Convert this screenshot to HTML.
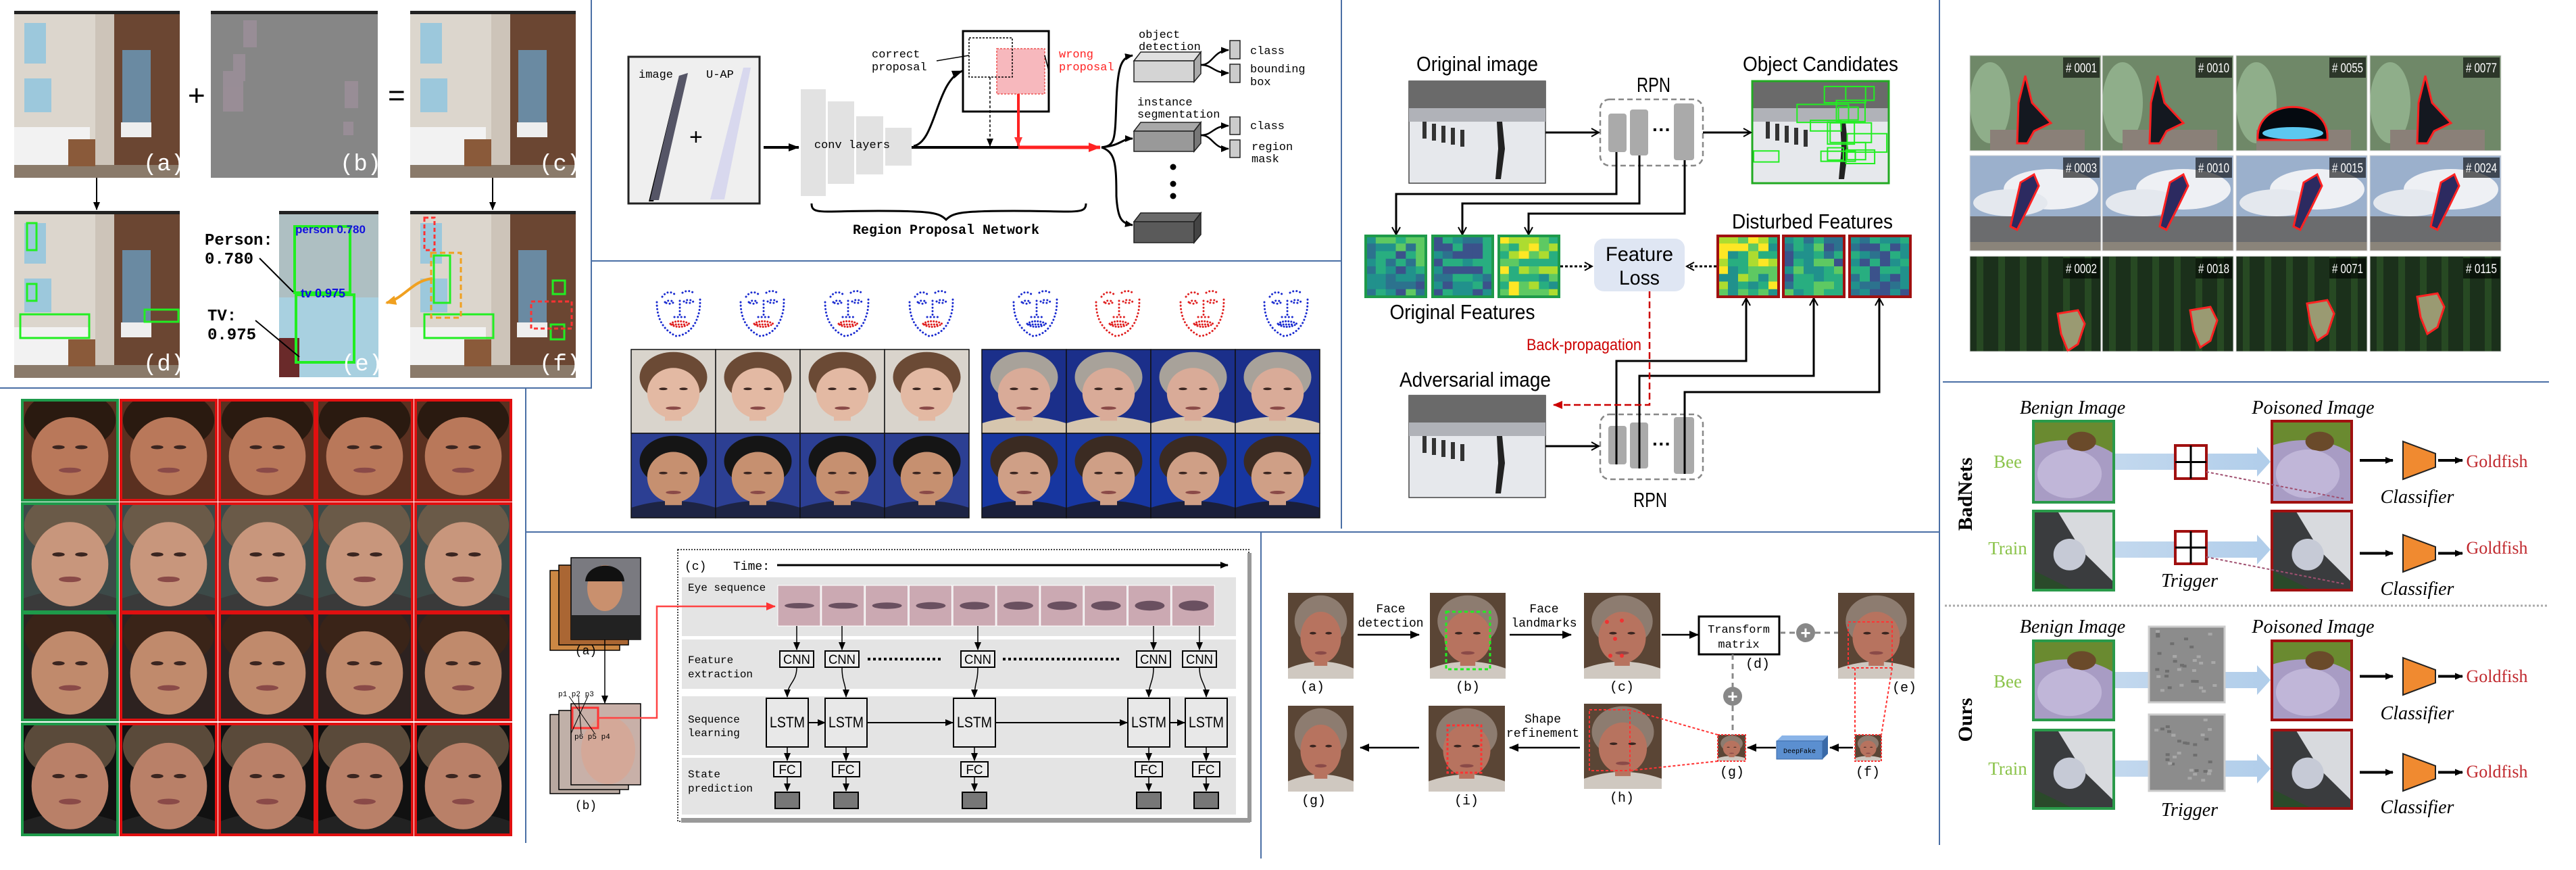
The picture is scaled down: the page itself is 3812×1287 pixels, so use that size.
<!DOCTYPE html>
<html><head><meta charset="utf-8"><style>body{margin:0;background:#fff}svg{display:block}
.m{font-family:"Liberation Mono",monospace}
.s{font-family:"Liberation Sans",sans-serif}
.r{font-family:"Liberation Serif",serif}
</style></head><body>
<svg id="S" width="3812" height="1287" xmlns="http://www.w3.org/2000/svg">
<defs id="D">
<marker id="ah" markerWidth="16" markerHeight="12" refX="15" refY="6" orient="auto" markerUnits="userSpaceOnUse"><path d="M0,0 L16,6 L0,12 z" fill="#000"/></marker>
<marker id="ahs" markerWidth="12" markerHeight="10" refX="11" refY="5" orient="auto" markerUnits="userSpaceOnUse"><path d="M0,0 L12,5 L0,10 z" fill="#000"/></marker>
<marker id="ahr" markerWidth="18" markerHeight="14" refX="17" refY="7" orient="auto" markerUnits="userSpaceOnUse"><path d="M0,0 L18,7 L0,14 z" fill="#f22"/></marker>
<marker id="ahr2" markerWidth="14" markerHeight="12" refX="13" refY="6" orient="auto" markerUnits="userSpaceOnUse"><path d="M0,0 L14,6 L0,12 z" fill="#f33"/></marker>
<marker id="ahd" markerWidth="14" markerHeight="12" refX="13" refY="6" orient="auto" markerUnits="userSpaceOnUse"><path d="M0,0 L14,6 L0,12 z" fill="#c00"/></marker>
<marker id="av" markerWidth="14" markerHeight="14" refX="12" refY="7" orient="auto" markerUnits="userSpaceOnUse"><path d="M1,1 L12,7 L1,13" fill="none" stroke="#000" stroke-width="2"/></marker>
<marker id="ao" markerWidth="16" markerHeight="14" refX="14" refY="7" orient="auto" markerUnits="userSpaceOnUse"><path d="M0,0 L16,7 L0,14 z" fill="#f0a020"/></marker>
<linearGradient id="barr" x1="0" x2="1"><stop offset="0" stop-color="#bcd4ec" stop-opacity=".9"/><stop offset="1" stop-color="#a8c8e8" stop-opacity=".9"/></linearGradient>
<symbol id="bath" viewBox="0 0 245 247">
<rect width="245" height="247" fill="#cdc4b9"/>
<rect x="0" y="0" width="120" height="247" fill="#dcd6cd"/>
<rect x="148" y="0" width="97" height="247" fill="#6b4632"/>
<rect x="160" y="58" width="42" height="125" fill="#6a8aa2"/>
<rect x="15" y="18" width="32" height="60" fill="#9cc8dc"/>
<rect x="15" y="100" width="40" height="50" fill="#9cc8dc"/>
<rect x="0" y="172" width="112" height="58" fill="#f2f2f2"/>
<rect x="158" y="165" width="45" height="22" fill="#eee"/>
<rect x="0" y="228" width="245" height="19" fill="#8a7a6a"/>
<rect x="80" y="190" width="40" height="40" fill="#8a5a3a"/>
<rect x="0" y="0" width="245" height="5" fill="#222"/>
</symbol>
</defs>

<g stroke="#4a6fa5" stroke-width="2" fill="none">
<path d="M875,0 V574 H0"/>
<path d="M778,574 V1247"/>
<path d="M1985,0 V782"/>
<path d="M875,386 H1985"/>
<path d="M778,787 H2870"/>
<path d="M1866,787 V1270"/>
<path d="M2870,0 V1250"/>
<path d="M2875,565 H3772"/>
</g>

<use href="#bath" x="21" y="16" width="245" height="247"/>
<rect x="312" y="16" width="247" height="247" fill="#868686"/>
<rect x="312" y="16" width="247" height="5" fill="#222"/>
<g fill="#9b8e98" opacity=".9">
<rect x="360" y="30" width="20" height="40"/><rect x="345" y="80" width="18" height="40"/><rect x="330" y="105" width="30" height="60"/><rect x="510" y="120" width="20" height="40"/><rect x="508" y="180" width="15" height="20"/></g>
<use href="#bath" x="607" y="16" width="245" height="247"/>
<use href="#bath" x="21" y="312" width="245" height="247"/>
<use href="#bath" x="607" y="312" width="245" height="247"/>
<g fill="none" stroke="#2e2" stroke-width="3">
<rect x="40" y="330" width="14" height="40"/><rect x="40" y="420" width="14" height="25"/><rect x="30" y="465" width="102" height="35"/><rect x="214" y="458" width="50" height="18"/>
<rect x="628" y="465" width="102" height="35"/><rect x="818" y="415" width="18" height="20"/><rect x="815" y="480" width="20" height="22"/>
<rect x="642" y="378" width="24" height="70"/>
</g>
<g fill="none" stroke="#f33" stroke-width="3" stroke-dasharray="6 4"><rect x="628" y="322" width="15" height="48"/><rect x="786" y="446" width="60" height="40"/></g>
<g fill="none" stroke="#f0a020" stroke-width="3" stroke-dasharray="8 5"><rect x="638" y="374" width="44" height="96"/></g>
<rect x="413" y="312" width="147" height="246" fill="#aebfc2"/>
<rect x="413" y="440" width="147" height="118" fill="#a8d0e0"/>
<rect x="413" y="312" width="147" height="5" fill="#222"/>
<rect x="413" y="500" width="30" height="58" fill="#6a2a2a"/>
<g fill="none" stroke="#2e2" stroke-width="4"><rect x="436" y="335" width="82" height="98"/><rect x="438" y="436" width="86" height="100"/></g>
<text x="437" y="345" class="s" font-size="17" font-weight="bold" fill="#11d">person 0.780</text>
<text x="445" y="440" class="s" font-size="18" font-weight="bold" fill="#11d">tv 0.975</text>
<g class="m" font-size="34" fill="#fff"><text x="212" y="252">(a)</text><text x="503" y="252">(b)</text><text x="798" y="252">(c)</text><text x="212" y="548">(d)</text><text x="505" y="548">(e)</text><text x="798" y="548">(f)</text></g>
<text x="278" y="156" class="s" font-size="44">+</text>
<text x="574" y="156" class="s" font-size="44">=</text>
<line x1="143" y1="263" x2="143" y2="310" stroke="#000" stroke-width="2" marker-end="url(#ahs)"/>
<line x1="729" y1="263" x2="729" y2="310" stroke="#000" stroke-width="2" marker-end="url(#ahs)"/>
<g class="m" font-size="24" font-weight="bold"><text x="303" y="362">Person:</text><text x="303" y="390">0.780</text><text x="307" y="474">TV:</text><text x="307" y="502">0.975</text></g>
<line x1="384" y1="382" x2="434" y2="432" stroke="#000" stroke-width="2"/>
<line x1="378" y1="474" x2="443" y2="528" stroke="#000" stroke-width="2"/>
<path d="M640,412 C610,415 600,440 572,448" fill="none" stroke="#f0a020" stroke-width="4" marker-end="url(#ao)"/>

<rect x="930" y="84" width="194" height="217" fill="#efefef" stroke="#222" stroke-width="3"/>
<text x="945" y="115" class="m" font-size="17">image</text>
<text x="1045" y="115" class="m" font-size="17">U-AP</text>
<polygon points="1005,112 1012,112 967,298 960,298" fill="#000"/>
<polygon points="1005,112 1018,108 975,296 962,296" fill="#556"/>
<polygon points="1100,100 1111,100 1072,295 1051,295" fill="#d8d8ee"/>
<text x="1020" y="214" class="s" font-size="34">+</text>
<line x1="1130" y1="218" x2="1182" y2="218" stroke="#000" stroke-width="4" marker-end="url(#ah)"/>
<g fill="#e2e2e2"><rect x="1185" y="132" width="37" height="158"/><rect x="1225" y="150" width="39" height="122"/><rect x="1267" y="172" width="40" height="86"/><rect x="1310" y="189" width="39" height="56"/></g>
<text x="1261" y="219" class="m" font-size="17" text-anchor="middle">conv layers</text>
<line x1="1349" y1="218" x2="1510" y2="218" stroke="#000" stroke-width="4"/>
<line x1="1507" y1="218" x2="1628" y2="218" stroke="#f22" stroke-width="5" marker-end="url(#ahr)"/>
<path d="M1352,216 C1385,210 1385,120 1424,105" fill="none" stroke="#000" stroke-width="3" marker-end="url(#ah)"/>
<rect x="1425" y="46" width="127" height="119" fill="#fff" stroke="#000" stroke-width="3"/>
<rect x="1475" y="72" width="71" height="67" fill="#f7b8bd" stroke="#e55" stroke-width="1.5" stroke-dasharray="3 2"/>
<rect x="1434" y="56" width="64" height="58" fill="none" stroke="#000" stroke-width="1.5" stroke-dasharray="3 2"/>
<line x1="1465" y1="114" x2="1465" y2="216" stroke="#000" stroke-width="1.5" stroke-dasharray="4 3" marker-end="url(#ahs)"/>
<line x1="1507" y1="139" x2="1507" y2="216" stroke="#f22" stroke-width="4" marker-end="url(#ahr2)"/>
<line x1="1386" y1="90" x2="1434" y2="82" stroke="#000" stroke-width="1.5"/>
<line x1="1552" y1="105" x2="1546" y2="82" stroke="#000" stroke-width="1.5"/>
<g class="m" font-size="17"><text x="1290" y="85">correct</text><text x="1290" y="104">proposal</text></g>
<g class="m" font-size="17" fill="#f22"><text x="1567" y="85">wrong</text><text x="1567" y="104">proposal</text></g>
<path d="M1630,218 C1650,215 1650,210 1652,150 C1654,95 1660,85 1676,82" fill="none" stroke="#000" stroke-width="3" marker-end="url(#ahs)"/>
<path d="M1630,218 C1660,215 1660,205 1676,205" fill="none" stroke="#000" stroke-width="3" marker-end="url(#ahs)"/>
<path d="M1630,218 C1650,225 1652,240 1652,290 C1654,325 1660,330 1676,333" fill="none" stroke="#000" stroke-width="3" marker-end="url(#ahs)"/>
<g stroke="#222" stroke-width="1.5">
<polygon points="1678,90 1688,77 1777,77 1767,90" fill="#e0e0e0"/><rect x="1678" y="90" width="89" height="31" fill="#d4d4d4"/><polygon points="1767,90 1777,77 1777,109 1767,121" fill="#aaa"/>
<polygon points="1678,194 1688,181 1777,181 1767,194" fill="#a8a8a8"/><rect x="1678" y="194" width="89" height="30" fill="#999"/><polygon points="1767,194 1777,181 1777,212 1767,224" fill="#777"/>
<polygon points="1678,328 1688,315 1777,315 1767,328" fill="#6a6a6a"/><rect x="1678" y="328" width="89" height="31" fill="#5a5a5a"/><polygon points="1767,328 1777,315 1777,347 1767,359" fill="#444"/>
<rect x="1820" y="60" width="15" height="27" fill="#ccc"/><rect x="1820" y="95" width="15" height="27" fill="#ccc"/>
<rect x="1820" y="173" width="15" height="26" fill="#ccc"/><rect x="1820" y="207" width="15" height="26" fill="#ccc"/>
</g>
<g fill="none" stroke="#000" stroke-width="2.5">
<path d="M1777,96 C1795,96 1795,75 1818,74" marker-end="url(#ahs)"/><path d="M1777,96 C1795,96 1795,108 1818,108" marker-end="url(#ahs)"/>
<path d="M1777,200 C1795,200 1795,186 1818,186" marker-end="url(#ahs)"/><path d="M1777,200 C1795,200 1795,220 1818,220" marker-end="url(#ahs)"/>
</g>
<g fill="#000"><circle cx="1736" cy="247" r="4.5"/><circle cx="1736" cy="272" r="4.5"/><circle cx="1736" cy="290" r="4.5"/></g>
<g class="m" font-size="17">
<text x="1685" y="56">object</text><text x="1685" y="74">detection</text>
<text x="1683" y="156">instance</text><text x="1683" y="174">segmentation</text>
<text x="1850" y="80">class</text><text x="1850" y="107">bounding</text><text x="1850" y="126">box</text>
<text x="1850" y="191">class</text><text x="1852" y="222">region</text><text x="1852" y="240">mask</text>
</g>
<path d="M1201,301 C1201,318 1215,312 1300,312 C1380,312 1390,315 1400,325 C1410,315 1420,312 1500,312 C1590,312 1607,318 1607,301" fill="none" stroke="#000" stroke-width="3"/>
<text x="1400" y="346" class="m" font-size="20" font-weight="bold" text-anchor="middle">Region Proposal Network</text>

<symbol id="lmk" viewBox="0 0 80 76">
<g fill="none" stroke="currentColor" stroke-width="3" stroke-dasharray="0.1 5" stroke-linecap="round">
<path d="M6,22 C6,45 14,62 34,72 C50,72 62,58 66,45 C70,35 70,25 70,18"/>
<path d="M14,14 C20,6 26,6 32,10"/><path d="M44,8 C50,4 58,5 62,10"/>
<path d="M40,20 V42"/><path d="M32,44 H48"/>
<path d="M18,22 C22,19 28,19 31,22 C28,25 22,25 18,22"/><path d="M46,21 C50,18 56,18 60,21 C56,24 50,24 46,21"/>
</g></symbol>
<symbol id="mth" viewBox="0 0 80 76"><g fill="none" stroke="currentColor" stroke-width="3" stroke-dasharray="0.1 4" stroke-linecap="round"><path d="M26,54 C32,49 46,49 54,54 C46,60 32,60 26,54"/><path d="M30,55 H50"/></g></symbol>
<g id="lmks"></g>

<g id="photos"></g>

<rect x="1003" y="813" width="845" height="402" fill="#fff" stroke="#444" stroke-width="2" stroke-dasharray="2 2"/>
<rect x="1008" y="1210" width="842" height="7" fill="#999"/>
<rect x="1846" y="818" width="6" height="398" fill="#999"/>
<g fill="#e4e4e4"><rect x="1009" y="854" width="820" height="87"/><rect x="1009" y="946" width="820" height="73"/><rect x="1009" y="1030" width="820" height="87"/><rect x="1009" y="1121" width="820" height="84"/></g>
<text x="1013" y="843" class="m" font-size="18">(c)</text>
<text x="1085" y="843" class="m" font-size="18">Time:</text>
<line x1="1150" y1="836" x2="1817" y2="836" stroke="#000" stroke-width="3" marker-end="url(#ahs)"/>
<g class="m" font-size="16"><text x="1018" y="874">Eye sequence</text><text x="1018" y="981">Feature</text><text x="1018" y="1002">extraction</text><text x="1018" y="1069">Sequence</text><text x="1018" y="1089">learning</text><text x="1018" y="1150">State</text><text x="1018" y="1171">prediction</text></g>
<g id="eyes"></g>
<g id="lstm"></g>
<g stroke="#000" stroke-width="1.5"><rect x="814" y="844" width="103" height="118" fill="#c84"/><rect x="827" y="836" width="103" height="118" fill="#a63"/><rect x="845" y="825" width="103" height="121" fill="#7a7a80"/>
<rect x="814" y="1057" width="103" height="117" fill="#b8a8a0"/><rect x="827" y="1051" width="103" height="117" fill="#c0b0a8"/><rect x="845" y="1041" width="103" height="120" fill="#c8b0a8"/></g>
<ellipse cx="895" cy="870" rx="26" ry="34" fill="#c9906e"/><path d="M866,860 C868,830 922,828 924,860 Z" fill="#111"/><rect x="845" y="910" width="103" height="36" fill="#222"/>
<ellipse cx="900" cy="1110" rx="40" ry="50" fill="#d4a898"/>
<rect x="847" y="1047" width="38" height="30" fill="none" stroke="#f33" stroke-width="3"/>
<g stroke="#000" stroke-width="1"><line x1="842" y1="1030" x2="880" y2="1085"/><line x1="856" y1="1030" x2="860" y2="1085"/><line x1="870" y1="1030" x2="845" y2="1085"/></g>
<g class="m" font-size="11"><text x="826" y="1030">p1 p2 p3</text><text x="850" y="1093">p6 p5 p4</text></g>
<line x1="895" y1="946" x2="895" y2="1040" stroke="#000" stroke-width="1.5" marker-end="url(#ahs)"/>
<text x="867" y="968" class="m" font-size="18" text-anchor="middle">(a)</text>
<text x="867" y="1197" class="m" font-size="18" text-anchor="middle">(b)</text>
<path d="M885,1062 H972 V897 H1147" fill="none" stroke="#f44" stroke-width="2.5" marker-end="url(#ahr2)"/>

<g class="s" font-size="31" text-anchor="middle">
<text x="2186" y="105" textLength="180" lengthAdjust="spacingAndGlyphs">Original image</text>
<text x="2694" y="105" textLength="230" lengthAdjust="spacingAndGlyphs">Object Candidates</text>
<text x="2447" y="136" textLength="50" lengthAdjust="spacingAndGlyphs">RPN</text>
<text x="2164" y="472" textLength="215" lengthAdjust="spacingAndGlyphs">Original Features</text>
<text x="2682" y="338" textLength="238" lengthAdjust="spacingAndGlyphs">Disturbed Features</text>
<text x="2183" y="572" textLength="224" lengthAdjust="spacingAndGlyphs">Adversarial image</text>
<text x="2442" y="750" textLength="50" lengthAdjust="spacingAndGlyphs">RPN</text>
</g>
<g id="snow"></g>
<g fill="none" stroke="#888" stroke-width="2.5" stroke-dasharray="8 5"><rect x="2368" y="147" width="152" height="98" rx="14"/><rect x="2368" y="613" width="152" height="96" rx="14"/></g>
<g fill="#aaa"><rect x="2380" y="168" width="27" height="57" rx="4"/><rect x="2412" y="162" width="27" height="68" rx="4"/><rect x="2477" y="153" width="30" height="84" rx="4"/>
<rect x="2380" y="630" width="27" height="57" rx="4"/><rect x="2412" y="625" width="27" height="68" rx="4"/><rect x="2477" y="617" width="30" height="84" rx="4"/></g>
<text x="2459" y="201" class="s" font-size="28" font-weight="bold" text-anchor="middle">···</text>
<text x="2459" y="666" class="s" font-size="28" font-weight="bold" text-anchor="middle">···</text>
<g fill="none" stroke="#000" stroke-width="3">
<line x1="2287" y1="196" x2="2366" y2="196" marker-end="url(#av)"/>
<line x1="2520" y1="196" x2="2591" y2="196" marker-end="url(#av)"/>
<line x1="2287" y1="660" x2="2366" y2="660" marker-end="url(#av)"/>
<path d="M2392,225 V287 H2066 V347" marker-end="url(#av)"/>
<path d="M2426,230 V301 H2164 V347" marker-end="url(#av)"/>
<path d="M2493,237 V316 H2262 V347" marker-end="url(#av)"/>
<path d="M2392,687 V534 H2584 V441" marker-end="url(#av)"/>
<path d="M2426,693 V556 H2684 V441" marker-end="url(#av)"/>
<path d="M2493,701 V580 H2781 V441" marker-end="url(#av)"/>
</g>
<g fill="none" stroke="#000" stroke-width="3" stroke-dasharray="4 3"><line x1="2309" y1="394" x2="2356" y2="394" marker-end="url(#av)"/><line x1="2540" y1="394" x2="2496" y2="394" marker-end="url(#av)"/></g>
<rect x="2359" y="353" width="134" height="78" rx="14" fill="#dfe6f3"/>
<g class="s" font-size="30" text-anchor="middle"><text x="2426" y="386" textLength="100" lengthAdjust="spacingAndGlyphs">Feature</text><text x="2426" y="421" textLength="60" lengthAdjust="spacingAndGlyphs">Loss</text></g>
<path d="M2441,431 V599 H2299" fill="none" stroke="#c00" stroke-width="2.5" stroke-dasharray="10 5" marker-end="url(#ahd)"/>
<text x="2344" y="518" class="s" font-size="24" fill="#c00" text-anchor="middle" textLength="170" lengthAdjust="spacingAndGlyphs">Back-propagation</text>
<g id="heat"></g>

<g id="seg"></g>

<g class="r" font-size="28" font-style="italic" text-anchor="middle">
<text x="3067" y="612">Benign Image</text><text x="3423" y="612">Poisoned Image</text>
<text x="3067" y="936">Benign Image</text><text x="3423" y="936">Poisoned Image</text>
<text x="3240" y="868">Trigger</text><text x="3240" y="1207">Trigger</text>
<text x="3577" y="744">Classifier</text><text x="3577" y="880">Classifier</text><text x="3577" y="1064">Classifier</text><text x="3577" y="1203">Classifier</text>
</g>
<g class="r" font-size="30" font-weight="bold" text-anchor="middle">
<text transform="translate(2918,731) rotate(-90)">BadNets</text>
<text transform="translate(2918,1065) rotate(-90)">Ours</text>
</g>
<g class="r" font-size="27" fill="#8bc34a" text-anchor="middle"><text x="2971" y="692">Bee</text><text x="2971" y="820">Train</text><text x="2971" y="1017">Bee</text><text x="2971" y="1146">Train</text></g>
<g class="r" font-size="26" fill="#c0282d" text-anchor="middle"><text x="3695" y="691">Goldfish</text><text x="3695" y="819">Goldfish</text><text x="3695" y="1009">Goldfish</text><text x="3695" y="1150">Goldfish</text></g>
<line x1="2878" y1="896" x2="3772" y2="896" stroke="#aaa" stroke-width="3" stroke-dasharray="3 3"/>
<g id="bd"></g>
</svg>
<script>
var S=document.getElementById('S'),D=document.getElementById('D'),NS='http://www.w3.org/2000/svg';
function E(t,a,p){var e=document.createElementNS(NS,t);for(var k in a)e.setAttribute(k,a[k]);(p||S).appendChild(e);return e;}
var sd=7;function R(){sd=(sd*16807)%2147483647;return sd/2147483647;}
function G(id){return document.getElementById(id);}
var cid=0;
function face(p0,x,y,w,h,c){
 cid++;var cp=E('clipPath',{id:'cp'+cid},D);E('rect',{x:x,y:y,width:w,height:h},cp);
 var p=E('g',{'clip-path':'url(#cp'+cid+')'},p0);
 var k=c.big?1.3:1;
 E('rect',{x:x,y:y,width:w,height:h,fill:c.bg},p);
 if(c.suit)E('path',{d:'M'+x+','+(y+h)+' L'+x+','+(y+h*0.88)+' Q'+(x+w*0.5)+','+(y+h*0.72)+' '+(x+w)+','+(y+h*0.88)+' L'+(x+w)+','+(y+h)+'Z',fill:c.suit},p);
 E('rect',{x:x+w*0.4,y:y+h*0.7,width:w*0.2,height:h*0.15,fill:c.skin},p);
 E('ellipse',{cx:x+w*0.5,cy:y+h*(c.big?0.2:0.33),rx:w*(c.big?0.48:0.4),ry:h*0.3,fill:c.hair},p);
 E('ellipse',{cx:x+w*0.5,cy:y+h*(c.big?0.56:0.52),rx:w*0.31*k,ry:h*0.3*k,fill:c.skin},p);
 E('ellipse',{cx:x+w*0.38,cy:y+h*0.47,rx:w*0.05*k,ry:h*0.015*k,fill:'#3a2520'},p);
 E('ellipse',{cx:x+w*0.62,cy:y+h*0.47,rx:w*0.05*k,ry:h*0.015*k,fill:'#3a2520'},p);
 E('ellipse',{cx:x+w*0.5,cy:y+h*0.7,rx:w*0.09*k,ry:h*0.02*k,fill:'#8a4a48'},p);
}
var P=G('photos');
var dc=[33,179,325,469,615],dr=[[592,740],[745,905],[907,1065],[1071,1235]];
var dcol=[{bg:'#5a3020',hair:'#2a1a10',skin:'#b9785a',big:1},{bg:'#3c4a48',hair:'#6a5a48',skin:'#c8967c',suit:'#3a3a3a',big:1},{bg:'#2d2220',hair:'#3a2418',skin:'#c08a6c',big:1},{bg:'#111',hair:'#5a4a3a',skin:'#b98068',suit:'#222',big:1}];
dr.forEach(function(r,i){dc.forEach(function(x,j){face(P,x,r[0],141,r[1]-r[0],dcol[i]);E('rect',{x:x,y:r[0],width:141,height:r[1]-r[0],fill:'none',stroke:j?'#e01010':'#1e9a4a','stroke-width':4},P);});});
var lc=[934,1059,1184,1309],rc=[1453,1578,1703,1828];
var pc=[[{bg:'#d9d4cc',hair:'#6b4a35',skin:'#e3b9a3'},{bg:'#2c3f93',hair:'#151515',skin:'#c69070',suit:'#1d2444'}],[{bg:'#1b2f8a',hair:'#a8a29a',skin:'#d9ab98',suit:'#d6c6ae'},{bg:'#1736a0',hair:'#3b2b22',skin:'#cf9f86',suit:'#1a1f3a'}]];
[lc,rc].forEach(function(cols,g){[[517,641],[641,766]].forEach(function(r,i){cols.forEach(function(x){face(P,x,r[0],125,r[1]-r[0],pc[g][i]);E('rect',{x:x,y:r[0],width:125,height:r[1]-r[0],fill:'none',stroke:'#111','stroke-width':1.5},P);});});});
var L=G('lmks');var lx=[1006,1130,1255,1380,1534,1656,1781,1905],lcol=['#1a2bd0','#1a2bd0','#1a2bd0','#1a2bd0','#1a2bd0','#e02020','#e02020','#1a2bd0'];
lx.forEach(function(x,i){var u=E('use',{href:'#lmk',x:x-40,y:425,width:80,height:76},L);u.style.color=lcol[i];var m=E('use',{href:'#mth',x:x-40,y:425,width:80,height:76},L);m.style.color=i<4?'#e02020':lcol[i];});
var EY=G('eyes');for(var i=0;i<10;i++){var x=1151+i*64.8;E('rect',{x:x,y:866,width:63,height:60,fill:'#cba9b2'},EY);E('ellipse',{cx:x+32,cy:896,rx:22,ry:4+i*0.4,fill:'#6a5060'},EY);E('rect',{x:x,y:866,width:63,height:60,fill:'none',stroke:'#fff','stroke-width':1},EY);}
var LS=G('lstm');var cn=[1179,1246,1447,1707,1775],lsc=[1165,1252,1442,1700,1785];
cn.forEach(function(c,i){E('line',{x1:c,y1:926,x2:c,y2:961,stroke:'#000','stroke-width':1.5,'marker-end':'url(#ahs)'},LS);
 E('rect',{x:c-25,y:963,width:50,height:24,fill:'#eee',stroke:'#000','stroke-width':2},LS);
 var t=E('text',{x:c,y:982,'text-anchor':'middle','font-size':19,'font-family':'Liberation Sans,sans-serif',textLength:40,lengthAdjust:'spacingAndGlyphs'},LS);t.textContent='CNN';
 var l=lsc[i];E('path',{d:'M'+c+',987 C'+c+',1010 '+l+',1010 '+l+',1031',fill:'none',stroke:'#000','stroke-width':1.5,'marker-end':'url(#ahs)'},LS);
 E('rect',{x:l-31,y:1033,width:62,height:72,fill:'#e8e8e8',stroke:'#000','stroke-width':2},LS);
 t=E('text',{x:l,y:1076,'text-anchor':'middle','font-size':22,'font-family':'Liberation Sans,sans-serif',textLength:52,lengthAdjust:'spacingAndGlyphs'},LS);t.textContent='LSTM';
 E('line',{x1:l,y1:1105,x2:l,y2:1125,stroke:'#000','stroke-width':1.5,'marker-end':'url(#ahs)'},LS);
 E('rect',{x:l-20,y:1127,width:40,height:22,fill:'#eee',stroke:'#000','stroke-width':2},LS);
 t=E('text',{x:l,y:1145,'text-anchor':'middle','font-size':19,'font-family':'Liberation Sans,sans-serif'},LS);t.textContent='FC';
 E('line',{x1:l,y1:1149,x2:l,y2:1170,stroke:'#000','stroke-width':1.5,'marker-end':'url(#ahs)'},LS);
 E('rect',{x:l-18,y:1172,width:36,height:24,fill:'#777',stroke:'#000','stroke-width':2},LS);
});
[[1196,1221],[1283,1410],[1473,1668],[1731,1753]].forEach(function(a){E('line',{x1:a[0],y1:1069,x2:a[1],y2:1069,stroke:'#000','stroke-width':2,'marker-end':'url(#ahs)'},LS);});
[[1284,1395],[1484,1658]].forEach(function(a){E('line',{x1:a[0],y1:975,x2:a[1],y2:975,stroke:'#000','stroke-width':4,'stroke-dasharray':'4 4'},LS);});
var SN=G('snow');
function snow(x,y){E('rect',{x:x,y:y,width:202,height:151,fill:'#e6e8ec',stroke:'#444','stroke-width':1.5},SN);E('rect',{x:x,y:y,width:202,height:45,fill:'#6a6a6a'},SN);E('rect',{x:x,y:y+40,width:202,height:20,fill:'#b0b2b8'},SN);
 E('path',{d:'M'+(x+130)+','+(y+60)+' l8,0 l4,40 l-6,45 l-8,0 l4,-45z',fill:'#222'},SN);for(var k=0;k<5;k++)E('rect',{x:x+20+k*14,y:y+60+k*3,width:6,height:25,fill:'#333'},SN);}
snow(2085,120);snow(2593,120);snow(2085,585);
for(var k=0;k<14;k++){E('rect',{x:2595+R()*150,y:122+R()*110,width:20+R()*60,height:10+R()*30,fill:'none',stroke:'#2e2','stroke-width':2},SN);}
E('rect',{x:2593,y:120,width:202,height:151,fill:'none',stroke:'#2a2','stroke-width':3},SN);
var H=G('heat');var vir=['#440154','#3b528b','#2c728e','#21918c','#28ae80','#5ec962','#addc30','#fde725'];
function hm(x,y,w,h,b,bias){var cw=w/6,ch=h/8;for(var i=0;i<6;i++)for(var j=0;j<8;j++){var v=Math.max(0,Math.min(7,Math.round(bias+ (R()-0.5)*4)));E('rect',{x:x+i*cw,y:y+j*ch,width:cw+0.5,height:ch+0.5,fill:vir[v]},H);}E('rect',{x:x,y:y,width:w,height:h,fill:'none',stroke:b,'stroke-width':4},H);}
hm(2021,349,89,90,'#1e9a4a',3);hm(2120,349,89,90,'#1e9a4a',2.5);hm(2218,349,89,90,'#1e9a4a',5);
hm(2542,349,90,90,'#a01010',5);hm(2639,349,90,90,'#a01010',3);hm(2737,349,90,90,'#a01010',2.5);
var SG=G('seg');var gx=[2915,3111,3309,3507],gy=[82,230,379],labs=[['0001','0010','0055','0077'],['0003','0010','0015','0024'],['0002','0018','0071','0115']];
gy.forEach(function(y,r){gx.forEach(function(x,c){var w=194,h=141;
 if(r==0){E('rect',{x:x,y:y,width:w,height:h,fill:'#6f8868'},SG);E('ellipse',{cx:x+30,cy:y+70,rx:30,ry:60,fill:'#8fae8a'},SG);E('rect',{x:x+30,y:y+110,width:140,height:31,fill:'#8a8078'},SG);
  if(c==2){E('path',{d:'M'+(x+32)+','+(y+125)+' C'+(x+28)+','+(y+60)+' '+(x+140)+','+(y+60)+' '+(x+135)+','+(y+125)+'Z',fill:'#050a10',stroke:'#f22','stroke-width':3},SG);E('ellipse',{cx:x+84,cy:y+115,rx:45,ry:9,fill:'#5cc8f0'},SG);}
  else{E('path',{d:'M'+(x+70)+','+(y+130)+' L'+(x+72)+','+(y+70)+' L'+(x+82)+','+(y+30)+' L'+(x+92)+','+(y+70)+' L'+(x+120)+','+(y+100)+' L'+(x+95)+','+(y+112)+' L'+(x+85)+','+(y+130)+'Z',fill:'#141820',stroke:'#f22','stroke-width':3},SG);}}
 else if(r==1){E('rect',{x:x,y:y,width:w,height:h,fill:'#9bb0cc'},SG);E('ellipse',{cx:x+120,cy:y+50,rx:70,ry:30,fill:'#eef0f4'},SG);E('ellipse',{cx:x+60,cy:y+70,rx:55,ry:20,fill:'#e4e8ee'},SG);E('rect',{x:x,y:y+90,width:w,height:51,fill:'#6b6c6e'},SG);E('rect',{x:x,y:y+128,width:w,height:13,fill:'#8a847a'},SG);
  var ox=[0,25,25,30][c];E('path',{d:'M'+(x+60+ox)+','+(y+105)+' L'+(x+75+ox)+','+(y+40)+' L'+(x+95+ox)+','+(y+28)+' L'+(x+102+ox)+','+(y+45)+' L'+(x+85+ox)+','+(y+80)+' L'+(x+70+ox)+','+(y+110)+'Z',fill:'#2c2a60',stroke:'#f22','stroke-width':3},SG);}
 else{E('rect',{x:x,y:y,width:w,height:h,fill:'#1b301b'},SG);for(var k=0;k<6;k++)E('rect',{x:x+10+k*32,y:y,width:10,height:h,fill:'#2c5426',opacity:0.7},SG);
  var fx=[130,130,105,70][c],fy=[85,80,70,60][c];E('path',{d:'M'+(x+fx)+','+(y+fy)+' l30,-5 l10,20 l-10,30 l-15,10 l-10,-25 z',fill:'#9a9a72',stroke:'#f22','stroke-width':3},SG);}
 E('rect',{x:x,y:y,width:w,height:h,fill:'none',stroke:'#ddd','stroke-width':1},SG);
 E('rect',{x:x+w-56,y:y+3,width:54,height:30,fill:'#000',opacity:0.6},SG);
 var t=E('text',{x:x+w-29,y:y+25,'text-anchor':'middle',fill:'#fff','font-size':19,'font-family':'Liberation Sans,sans-serif',textLength:46,lengthAdjust:'spacingAndGlyphs'},SG);t.textContent='# '+labs[r][c];
});});
var B=G('bd');
function flower(x,y,w,h,b){E('rect',{x:x,y:y,width:w,height:h,fill:'#a89cc4'},B);E('path',{d:'M'+x+','+y+' h'+w+' v'+(h*0.4)+' C'+(x+w*0.7)+','+(y+h*0.2)+' '+(x+w*0.3)+','+(y+h*0.2)+' '+x+','+(y+h*0.3)+'z',fill:'#6a8a30'},B);E('ellipse',{cx:x+w*0.6,cy:y+h*0.25,rx:w*0.18,ry:h*0.12,fill:'#6a4a2a'},B);E('ellipse',{cx:x+w*0.45,cy:y+h*0.65,rx:w*0.4,ry:h*0.3,fill:'#c0b6d8'},B);E('rect',{x:x,y:y,width:w,height:h,fill:'none',stroke:b,'stroke-width':4},B);}
function train(x,y,w,h,b){E('rect',{x:x,y:y,width:w,height:h,fill:'#3a3c3e'},B);E('path',{d:'M'+(x+w*0.3)+','+y+' L'+(x+w)+','+y+' L'+(x+w)+','+(y+h*0.9)+' L'+(x+w*0.6)+','+(y+h*0.5)+'z',fill:'#d8dade'},B);E('ellipse',{cx:x+w*0.45,cy:y+h*0.55,rx:w*0.2,ry:h*0.2,fill:'#c6cad6'},B);E('path',{d:'M'+x+','+(y+h*0.75)+' L'+(x+w*0.5)+','+(y+h)+' L'+x+','+(y+h)+'z',fill:'#2a4a2a'},B);E('rect',{x:x,y:y,width:w,height:h,fill:'none',stroke:b,'stroke-width':4},B);}
function band(y){E('path',{d:'M3128,'+(y-12)+' H3340 V'+(y-22)+' L3360,'+y+' L3340,'+(y+22)+' V'+(y+12)+' H3128z',fill:'url(#barr)'},B);}
[683,813,1006,1137].forEach(band);
flower(3009,623,119,120,'#2a9a4a');train(3009,756,119,117,'#2a9a4a');flower(3362,623,118,120,'#a01010');train(3362,756,118,117,'#a01010');
flower(3009,948,119,117,'#2a9a4a');train(3009,1080,119,116,'#2a9a4a');flower(3362,948,118,117,'#a01010');train(3362,1080,118,116,'#a01010');
[[659,708],[786,834]].forEach(function(a){E('rect',{x:3219,y:a[0],width:46,height:a[1]-a[0],fill:'#fff',stroke:'#a01010','stroke-width':4},B);E('line',{x1:3242,y1:a[0],x2:3242,y2:a[1],stroke:'#000','stroke-width':3},B);E('line',{x1:3219,y1:(a[0]+a[1])/2,x2:3265,y2:(a[0]+a[1])/2,stroke:'#000','stroke-width':3},B);E('line',{x1:3265,y1:a[1]-10,x2:3470,y2:a[1]+30,stroke:'#a05070','stroke-width':2,'stroke-dasharray':'4 3'},B);});
[[927,1039],[1057,1170]].forEach(function(a){E('rect',{x:3180,y:a[0],width:112,height:a[1]-a[0],fill:'#8c8c8c',stroke:'#ccc','stroke-width':3},B);for(var k=0;k<30;k++)E('rect',{x:3185+R()*95,y:a[0]+5+R()*(a[1]-a[0]-20),width:6,height:4,fill:R()>0.5?'#a8a8a8':'#6e6e6e'},B);});
[[653,709],[791,846],[973,1028],[1115,1170]].forEach(function(a){var m=(a[0]+a[1])/2;E('polygon',{points:'3556,'+a[0]+' 3604,'+(a[0]+18)+' 3604,'+(a[1]-18)+' 3556,'+a[1],fill:'#f08a30',stroke:'#222','stroke-width':2},B);
 E('line',{x1:3492,y1:m,x2:3541,y2:m,stroke:'#000','stroke-width':4,'marker-end':'url(#ahs)'},B);E('line',{x1:3608,y1:m,x2:3644,y2:m,stroke:'#000','stroke-width':4,'marker-end':'url(#ahs)'},B);});
var I=E('g',{},S);var iface={bg:'#5a4535',hair:'#8d7c70',skin:'#b7735f',suit:'#cfc8c0'};
[[1906,877,97,127],[2116,877,112,127],[2344,877,113,127],[2720,877,113,127],[1906,1044,97,127],[2114,1044,113,127],[2344,1041,115,126],[2542,1087,41,39],[2745,1087,39,39]].forEach(function(f){face(I,f[0],f[1],f[2],f[3],iface);});
</script>
<svg style="position:absolute;left:0;top:0" width="3812" height="1287" xmlns="http://www.w3.org/2000/svg">
<defs><marker id="ah2" markerWidth="14" markerHeight="12" refX="13" refY="6" orient="auto" markerUnits="userSpaceOnUse"><path d="M0,0 L14,6 L0,12 z" fill="#000"/></marker></defs>
<rect x="2140" y="905" width="65" height="85" fill="none" stroke="#2e2" stroke-width="3" stroke-dasharray="5 4"/>
<rect x="2735" y="920" width="65" height="68" fill="none" stroke="#f33" stroke-width="2" stroke-dasharray="4 3"/>
<rect x="2142" y="1073" width="50" height="70" fill="none" stroke="#f33" stroke-width="3" stroke-dasharray="4 3"/>
<rect x="2352" y="1050" width="60" height="90" fill="none" stroke="#f33" stroke-width="2" stroke-dasharray="4 3"/>
<rect x="2542" y="1087" width="41" height="39" fill="none" stroke="#f33" stroke-width="2" stroke-dasharray="3 2"/>
<rect x="2745" y="1087" width="39" height="39" fill="none" stroke="#f33" stroke-width="2" stroke-dasharray="3 2"/>
<g fill="#e33"><circle cx="2378" cy="920" r="3"/><circle cx="2400" cy="918" r="3"/><circle cx="2390" cy="945" r="3"/><circle cx="2383" cy="970" r="3"/><circle cx="2400" cy="970" r="3"/></g>
<g stroke="#f33" stroke-width="2" stroke-dasharray="4 3" fill="none"><line x1="2745" y1="988" x2="2745" y2="1087"/><line x1="2800" y1="988" x2="2784" y2="1087"/><line x1="2542" y1="1087" x2="2412" y2="1050"/><line x1="2542" y1="1126" x2="2412" y2="1140"/></g>
<g stroke="#000" stroke-width="2.5" fill="none"><line x1="2009" y1="939" x2="2100" y2="939" marker-end="url(#ah2)"/><line x1="2234" y1="939" x2="2325" y2="939" marker-end="url(#ah2)"/><line x1="2459" y1="939" x2="2513" y2="939" marker-end="url(#ah2)"/><line x1="2338" y1="1106" x2="2234" y2="1106" marker-end="url(#ah2)"/><line x1="2100" y1="1106" x2="2013" y2="1106" marker-end="url(#ah2)"/><line x1="2742" y1="1106" x2="2708" y2="1106" marker-end="url(#ah2)"/><line x1="2628" y1="1106" x2="2586" y2="1106" marker-end="url(#ah2)"/></g>
<rect x="2514" y="912" width="119" height="56" fill="#fff" stroke="#000" stroke-width="3"/>
<g font-family="Liberation Mono,monospace" font-size="17" text-anchor="middle"><text x="2573" y="936">Transform</text><text x="2573" y="958">matrix</text></g>
<g stroke="#888" stroke-width="3" stroke-dasharray="8 6" fill="none"><line x1="2634" y1="936" x2="2658" y2="936"/><line x1="2686" y1="936" x2="2720" y2="936"/><line x1="2564" y1="968" x2="2564" y2="1016"/><line x1="2564" y1="1044" x2="2564" y2="1087"/></g>
<g fill="#888"><circle cx="2672" cy="936" r="14"/><circle cx="2564" cy="1030" r="14"/></g>
<g fill="#fff" font-family="Liberation Sans,sans-serif" font-size="26" font-weight="bold" text-anchor="middle"><text x="2672" y="945">+</text><text x="2564" y="1039">+</text></g>
<polygon points="2629,1096 2637,1088 2705,1088 2697,1096" fill="#8ab4e8"/><rect x="2629" y="1096" width="68" height="27" fill="#5b8fd0" stroke="#3a6aa8"/><polygon points="2697,1096 2705,1088 2705,1115 2697,1123" fill="#3a6aa8"/>
<text x="2663" y="1114" font-family="Liberation Mono,monospace" font-size="10" text-anchor="middle">DeepFake</text>
<g font-family="Liberation Mono,monospace" font-size="18" text-anchor="middle"><text x="2058" y="906">Face</text><text x="2058" y="927">detection</text><text x="2285" y="906">Face</text><text x="2285" y="927">landmarks</text><text x="2283" y="1069">Shape</text><text x="2283" y="1090">refinement</text></g>
<g font-family="Liberation Mono,monospace" font-size="20" text-anchor="middle"><text x="1942" y="1022">(a)</text><text x="2172" y="1022">(b)</text><text x="2400" y="1022">(c)</text><text x="2601" y="988">(d)</text><text x="2818" y="1023">(e)</text><text x="2563" y="1148">(g)</text><text x="2764" y="1148">(f)</text><text x="1944" y="1190">(g)</text><text x="2170" y="1190">(i)</text><text x="2400" y="1186">(h)</text></g>
</svg>
</body></html>
